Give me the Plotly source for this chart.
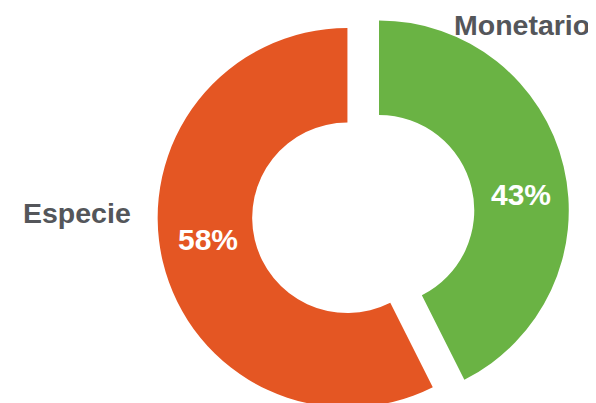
import plotly.graph_objects as go

labels = ["Monetario", "Especie"]
values = [43, 58]
colors = ["#6AB344", "#E45623"]
pct_text = [str(v) + "%" for v in values]

# label spots in paper coords (reference chart places them by hand)
label_pos = [(0.862, 0.959), (0.115, 0.502)]
pct_pos = [(0.860, 0.548), (0.336, 0.439)]

fig = go.Figure()
fig.add_trace(
    go.Pie(
        labels=labels,
        values=values,
        textinfo="none",
        marker=dict(colors=colors, line=dict(width=0)),
        hole=0.502,
        pull=0.0855,
        sort=False,
        direction="clockwise",
        rotation=0,
        domain=dict(x=[0.192, 1.0], y=[0, 1]),
        hoverinfo="label+percent",
    )
)

annotations = []
for name, (x, y) in zip(labels, label_pos):
    annotations.append(
        dict(text="<b>" + name + "</b>", x=x, y=y, xref="paper", yref="paper",
             xanchor="center", yanchor="middle", showarrow=False,
             font=dict(family="Liberation Sans", size=28.5, color="#54565A"))
    )
for t, (x, y) in zip(pct_text, pct_pos):
    annotations.append(
        dict(text="<b>" + t + "</b>", x=x, y=y, xref="paper", yref="paper",
             xanchor="center", yanchor="middle", showarrow=False,
             font=dict(family="Liberation Sans", size=30, color="white"))
    )

fig.update_layout(
    width=596,
    height=412,
    margin=dict(l=0, r=0, t=0, b=0),
    showlegend=False,
    paper_bgcolor="white",
    annotations=annotations,
)

fig.write_html("out.html")
